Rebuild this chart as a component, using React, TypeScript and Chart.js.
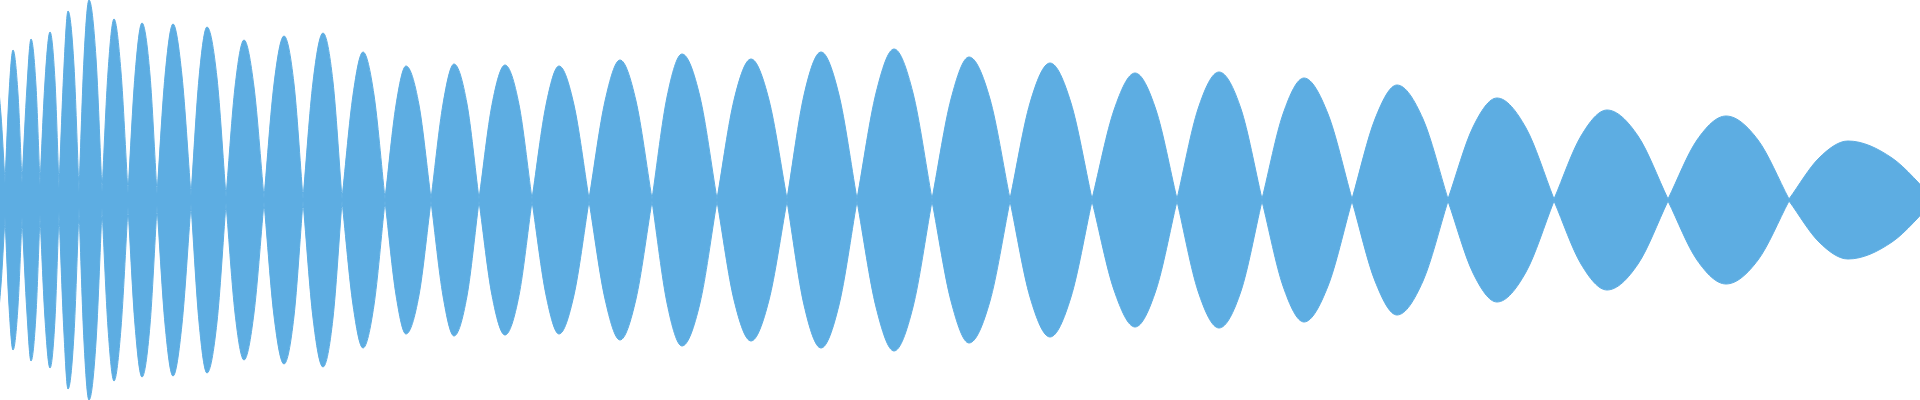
import React, { useEffect, useRef } from "react";
import { Chart, registerables } from "chart.js";

Chart.register(...registerables);

// Sample positions (0..1920 samples) where the envelope pinches in
const crossingTimes = [
  -13, 5, 22, 40, 59, 79, 102, 128, 157, 191, 226, 264, 303, 342, 385, 431,
  479, 532, 589, 652, 717, 787, 857, 932, 1010, 1092, 1177, 1262, 1352, 1448,
  1554, 1668, 1789, 1935,
];

// Residual amplitude left at each pinch (normalised, full scale = 1)
const crossingFloor = [
  0.085, 0.085, 0.085, 0.075, 0.06, 0.04, 0.04, 0.035, 0.03, 0.02, 0.015, 0.01,
  0.005, 0.005, 0.005, 0.005, 0.005, 0.005, 0.005, 0.005, 0.005, 0.005, 0.005,
  0.005, 0.005, 0.005, 0.005, 0.005, 0.005, 0.005, 0.005, 0.005, 0.005, 0,
];

// Rising shoulder of each lobe: position and amplitude
const riseTimes = [
  -8, 9, 27, 45, 64, 84, 108, 135, 165, 199, 235, 274, 313, 353, 396, 443,
  492, 546, 605, 667, 734, 804, 876, 951, 1030, 1114, 1198, 1283, 1375, 1473,
  1581, 1697, 1819,
];
const riseAmps = [
  0.45, 0.53, 0.57, 0.595, 0.67, 0.71, 0.64, 0.625, 0.62, 0.61, 0.565, 0.58,
  0.59, 0.525, 0.475, 0.48, 0.477, 0.475, 0.495, 0.515, 0.5, 0.525, 0.535,
  0.505, 0.485, 0.45, 0.455, 0.43, 0.405, 0.365, 0.32, 0.3, 0.21,
];

// Crest of each lobe: position and amplitude
const peakTimes = [
  -4, 13, 31, 50, 68, 89, 114, 142, 173, 207, 244, 284, 323, 363, 406, 454,
  505, 559, 620, 682, 751, 821, 894, 969, 1050, 1135, 1219, 1304, 1397, 1497,
  1607, 1726, 1848,
];
const peakAmps = [
  0.63, 0.75, 0.805, 0.84, 0.945, 1.0, 0.905, 0.885, 0.88, 0.865, 0.8, 0.82,
  0.835, 0.74, 0.67, 0.68, 0.675, 0.67, 0.7, 0.73, 0.705, 0.74, 0.755, 0.715,
  0.685, 0.635, 0.64, 0.61, 0.575, 0.51, 0.45, 0.42, 0.295,
];

// Falling shoulder of each lobe: position and amplitude
const fallTimes = [
  1, 18, 36, 55, 74, 96, 121, 150, 182, 217, 254, 294, 333, 374, 419, 467, 519,
  574, 636, 700, 769, 839, 913, 990, 1071, 1156, 1241, 1328, 1423, 1526, 1638,
  1758, 1892,
];
const fallAmps = [
  0.425, 0.53, 0.57, 0.595, 0.67, 0.71, 0.64, 0.625, 0.62, 0.61, 0.565, 0.58,
  0.59, 0.525, 0.475, 0.48, 0.477, 0.475, 0.495, 0.515, 0.5, 0.525, 0.535,
  0.505, 0.485, 0.45, 0.455, 0.43, 0.405, 0.36, 0.32, 0.3, 0.21,
];

const COLOR = "#5DADE2";

// Each lobe is its own run of points; a null point breaks the line between lobes
function buildEnvelope(sign: number) {
  const pts: { x: number; y: number | null }[] = [];
  for (let i = 0; i < peakTimes.length; i++) {
    pts.push({ x: crossingTimes[i], y: sign * crossingFloor[i] });
    pts.push({ x: riseTimes[i], y: sign * riseAmps[i] });
    pts.push({ x: peakTimes[i], y: sign * peakAmps[i] });
    pts.push({ x: fallTimes[i], y: sign * fallAmps[i] });
    pts.push({ x: crossingTimes[i + 1], y: sign * crossingFloor[i + 1] });
    pts.push({ x: crossingTimes[i + 1], y: null });
  }
  return pts;
}

export default function App() {
  const canvasRef = useRef<HTMLCanvasElement | null>(null);

  useEffect(() => {
    if (!canvasRef.current) return;
    const common = {
      borderColor: COLOR,
      backgroundColor: COLOR,
      borderWidth: 1,
      fill: "origin" as const,
      cubicInterpolationMode: "monotone" as const,
      spanGaps: false,
      pointRadius: 0,
    };
    const chart = new Chart(canvasRef.current, {
      type: "line",
      data: {
        datasets: [
          { ...common, data: buildEnvelope(1) },
          { ...common, data: buildEnvelope(-1) },
        ],
      },
      options: {
        animation: false,
        responsive: true,
        maintainAspectRatio: false,
        layout: { padding: 0 },
        plugins: {
          legend: { display: false },
          tooltip: { enabled: false },
        },
        events: [],
        scales: {
          x: { type: "linear", min: 0, max: 1920, display: false },
          y: { type: "linear", min: -1, max: 1, display: false },
        },
      },
    });
    return () => chart.destroy();
  }, []);

  return (
    <div
      style={{
        position: "fixed",
        left: 0,
        top: 0,
        width: "1920px",
        height: "400px",
        background: "#ffffff",
      }}
    >
      <canvas ref={canvasRef} />
    </div>
  );
}
